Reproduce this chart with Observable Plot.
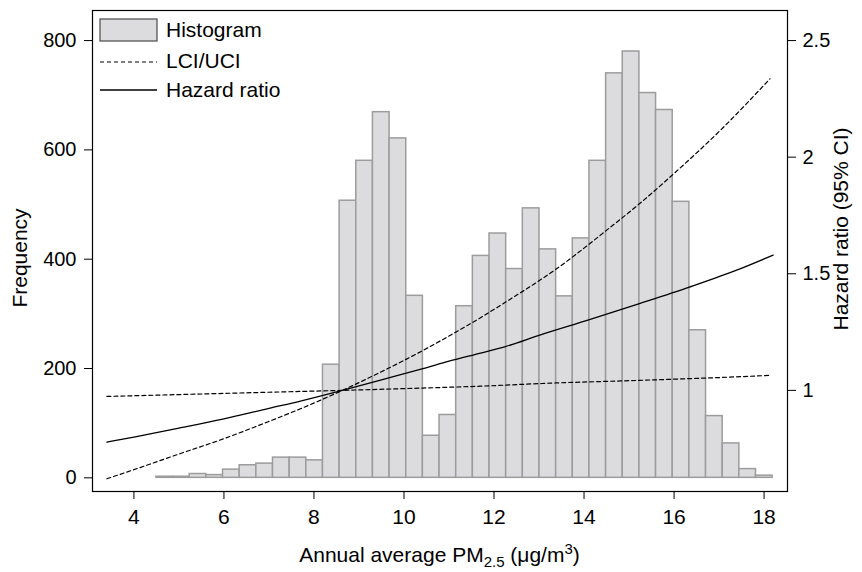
<!DOCTYPE html>
<html><head><meta charset="utf-8">
<script src="https://cdn.jsdelivr.net/npm/d3@7"></script>
<script src="https://cdn.jsdelivr.net/npm/@observablehq/plot@0.6"></script>
<style>body{margin:0;background:#fff;}</style>
</head><body><div id="chart"></div>
<script>
// Histogram bins (PM2.5 µg/m3) and counts
const binEdges = [4.5, 4.87, 5.24, 5.61, 5.98, 6.35, 6.72, 7.09, 7.46, 7.83, 8.2, 8.57, 8.94, 9.31, 9.68, 10.05, 10.42, 10.79, 11.16, 11.53, 11.9, 12.27, 12.64, 13.01, 13.38, 13.75, 14.12, 14.49, 14.86, 15.23, 15.6, 15.97, 16.34, 16.71, 17.08, 17.45, 17.82, 18.19];
const frequency = [2, 2, 7, 5, 15, 23, 26, 37, 37, 32, 207, 507, 580, 669, 621, 333, 77, 115, 314, 406, 447, 382, 493, 418, 332, 438, 580, 740, 780, 704, 673, 505, 270, 113, 63, 16, 4];

// Hazard ratio curve
const hrX = [3.4, 4, 5, 6, 7, 7.7, 8.63, 9.5, 10.42, 11, 11.7, 12.27, 13, 14.12, 15.23, 16.34, 17.45, 18.2];
const hrY = [0.778, 0.80, 0.838, 0.878, 0.923, 0.954, 1.0, 1.045, 1.093, 1.125, 1.16, 1.189, 1.236, 1.303, 1.372, 1.443, 1.52, 1.58];

// Confidence limits (dashed)
const ciSteepX = [3.4, 4, 5, 6, 7, 7.7, 8.63, 9.5, 10.42, 11, 11.6, 12.27, 13, 13.38, 14, 14.49, 15.23, 15.97, 17.08, 18.13];
const ciSteepY = [0.621, 0.66, 0.727, 0.793, 0.867, 0.921, 1.0, 1.08, 1.171, 1.233, 1.30, 1.38, 1.47, 1.52, 1.61, 1.685, 1.80, 1.925, 2.125, 2.336];
const ciFlatX = [3.4, 5, 7, 8.63, 10.42, 11.7, 13.25, 15.23, 17, 18.1];
const ciFlatY = [0.974, 0.982, 0.992, 1.0, 1.01, 1.018, 1.031, 1.043, 1.055, 1.064];

// Ticks and labels
const xTicks = [4, 6, 8, 10, 12, 14, 16, 18];
const freqTicks = [0, 200, 400, 600, 800];
const hrTicks = [1, 1.5, 2, 2.5];
const yLabelLeft = "Frequency";
const yLabelRight = "Hazard ratio (95% CI)";
const legendLabels = ["Histogram", "LCI/UCI", "Hazard ratio"];

// Right axis (hazard ratio) mapped onto the frequency scale: HR 1 ↔ 160, HR 2.5 ↔ 800
const toF = hr => 160 + (hr - 1) * 1280 / 3;
const fromF = f => 1 + (f - 160) * 3 / 1280;

const bins = frequency.map((c, i) => ({x1: binEdges[i], x2: binEdges[i + 1], count: c}));
const hrData = hrX.map((x, i) => ({x, v: hrY[i]}));
const steepData = ciSteepX.map((x, i) => ({x, v: ciSteepY[i]}));
const flatData = ciFlatX.map((x, i) => ({x, v: ciFlatY[i]}));

const FONT = "Liberation Sans, Arial, Helvetica, sans-serif";

const plot = Plot.plot({
  width: 862, height: 572,
  marginLeft: 92, marginRight: 75, marginTop: 10, marginBottom: 81,
  style: {fontFamily: FONT, fontSize: "20px", color: "black", background: "white", overflow: "visible"},
  x: {domain: [3.08, 18.52]},
  y: {domain: [-25, 855]},
  marks: [
    Plot.rectY(bins, {x1: "x1", x2: "x2", y: "count", fill: "#dcdcde", stroke: "#9c9c9c", strokeWidth: 1.5}),
    Plot.line(flatData, {x: "x", y: d => toF(d.v), stroke: "black", strokeWidth: 1.2, strokeDasharray: "4,3", curve: "monotone-x"}),
    Plot.line(steepData, {x: "x", y: d => toF(d.v), stroke: "black", strokeWidth: 1.2, strokeDasharray: "4,3", curve: "monotone-x"}),
    Plot.line(hrData, {x: "x", y: d => toF(d.v), stroke: "black", strokeWidth: 1.3, curve: "monotone-x"}),
    Plot.frame({stroke: "black", strokeWidth: 1.2}),
    Plot.axisX(xTicks, {tickSize: 8, tickPadding: 10, label: null, fontSize: 21}),
    Plot.axisY(freqTicks, {anchor: "left", tickSize: 8, tickPadding: 8, label: null}),
    Plot.axisY(hrTicks.map(toF), {anchor: "right", tickSize: 8, tickPadding: 7, label: null,
      tickFormat: f => String(+fromF(f).toFixed(2))}),
    Plot.text([yLabelLeft], {frameAnchor: "left", textAnchor: "middle", dx: -72, dy: 7, rotate: -90, fontSize: 21}),
    Plot.text([yLabelRight], {frameAnchor: "right", textAnchor: "middle", dx: 54, dy: -22, rotate: -90, fontSize: 21})
  ]
});
document.getElementById("chart").appendChild(plot);

const svg = d3.select(plot);
// x-axis title with subscript / superscript
const xt = svg.append("text")
  .attr("x", 439.5).attr("y", 562)
  .attr("text-anchor", "middle")
  .attr("font-family", FONT).attr("font-size", 21).attr("fill", "black");
xt.append("tspan").text("Annual average PM");
xt.append("tspan").attr("dy", 5).attr("font-size", 15).text("2.5");
xt.append("tspan").attr("dy", -5).text(" (\u03bcg/m");
xt.append("tspan").attr("dy", -8).attr("font-size", 15).text("3");
xt.append("tspan").attr("dy", 8).text(")");

// legend
const lg = svg.append("g").attr("font-family", FONT).attr("font-size", 21).attr("fill", "black")
  .attr("text-anchor", "start");
lg.append("rect").attr("x", 100).attr("y", 19).attr("width", 57).attr("height", 22)
  .attr("fill", "#dcdcde").attr("stroke", "#555").attr("stroke-width", 1.3);
lg.append("line").attr("x1", 100).attr("x2", 157).attr("y1", 62).attr("y2", 62)
  .attr("stroke", "black").attr("stroke-width", 1.2).attr("stroke-dasharray", "4,3");
lg.append("line").attr("x1", 100).attr("x2", 157).attr("y1", 90).attr("y2", 90)
  .attr("stroke", "black").attr("stroke-width", 1.3);
[30, 61, 90].forEach((y, i) => {
  lg.append("text").attr("x", 166).attr("y", y).attr("dy", "0.35em").attr("text-anchor", "start").text(legendLabels[i]);
});
</script>
</body></html>
